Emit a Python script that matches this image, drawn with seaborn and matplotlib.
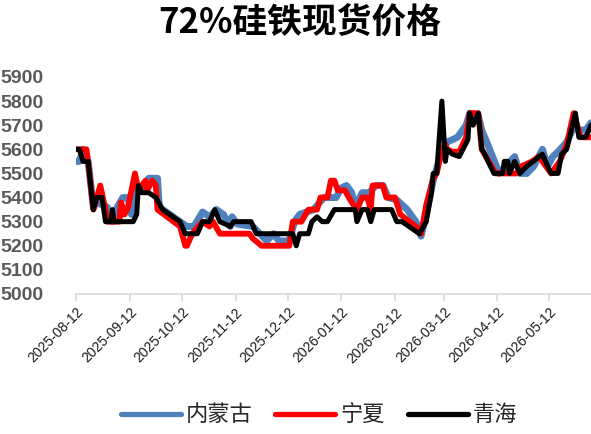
import pandas as pd
import matplotlib
matplotlib.use("Agg")
import matplotlib.pyplot as plt
import matplotlib.dates as mdates
from matplotlib.lines import Line2D
import seaborn as sns

# 内蒙古
nm_dates = ["2025-08-12", "2025-08-14", "2025-08-16", "2025-08-19", "2025-08-22", "2025-08-24",
            "2025-08-30", "2025-09-02", "2025-09-04", "2025-09-08", "2025-09-11", "2025-09-13",
            "2025-09-15", "2025-09-18", "2025-09-23", "2025-09-28", "2025-09-29", "2025-10-11",
            "2025-10-15", "2025-10-19", "2025-10-24", "2025-10-28", "2025-11-01", "2025-11-05",
            "2025-11-09", "2025-11-10", "2025-11-13", "2025-11-22", "2025-11-26", "2025-11-30",
            "2025-12-04", "2025-12-07", "2025-12-13", "2025-12-16", "2025-12-19", "2025-12-23",
            "2025-12-27", "2026-01-02", "2026-01-09", "2026-01-12", "2026-01-15", "2026-01-18",
            "2026-01-20", "2026-01-24", "2026-01-28", "2026-02-01", "2026-02-05", "2026-02-08",
            "2026-02-13", "2026-02-19", "2026-02-24", "2026-02-27", "2026-03-01", "2026-03-06",
            "2026-03-10", "2026-03-14", "2026-03-20", "2026-03-22", "2026-03-25", "2026-03-27",
            "2026-04-01", "2026-04-03", "2026-04-07", "2026-04-12", "2026-04-13", "2026-04-22",
            "2026-04-25", "2026-04-29", "2026-05-03", "2026-05-08", "2026-05-11", "2026-05-14",
            "2026-05-17", "2026-05-22", "2026-05-26", "2026-05-29", "2026-06-02", "2026-06-05"]
nm_vals = [5550, 5550, 5600, 5550, 5360, 5380,
           5360, 5300, 5350, 5400, 5400, 5330,
           5430, 5430, 5480, 5480, 5360, 5300,
           5280, 5280, 5340, 5320, 5350, 5330,
           5280, 5320, 5290, 5280, 5250, 5220,
           5250, 5220, 5220, 5300, 5330, 5340,
           5350, 5400, 5400, 5440, 5450, 5420,
           5360, 5420, 5420, 5450, 5450, 5400,
           5390, 5350, 5300, 5240, 5300, 5470,
           5570, 5630, 5650, 5670, 5700, 5750,
           5740, 5680, 5610, 5520, 5500, 5570,
           5500, 5500, 5530, 5600, 5530, 5570,
           5590, 5630, 5690, 5680, 5680, 5710]

# 宁夏
nx_dates = ["2025-08-12", "2025-08-18", "2025-08-19", "2025-08-22", "2025-08-24", "2025-08-26",
            "2025-08-29", "2025-08-30", "2025-09-06", "2025-09-07", "2025-09-09", "2025-09-11",
            "2025-09-15", "2025-09-17", "2025-09-21", "2025-09-22", "2025-09-25", "2025-09-27",
            "2025-09-28", "2025-10-11", "2025-10-14", "2025-10-15", "2025-10-18", "2025-10-24",
            "2025-10-28", "2025-10-30", "2025-11-03", "2025-11-20", "2025-11-22", "2025-11-27",
            "2025-12-13", "2025-12-15", "2025-12-20", "2025-12-24", "2025-12-29", "2025-12-31",
            "2026-01-04", "2026-01-06", "2026-01-08", "2026-01-10", "2026-01-14", "2026-01-18",
            "2026-01-21", "2026-01-24", "2026-01-27", "2026-01-29", "2026-01-30", "2026-02-05",
            "2026-02-07", "2026-02-12", "2026-02-15", "2026-02-24", "2026-02-27", "2026-03-02",
            "2026-03-06", "2026-03-08", "2026-03-11", "2026-03-13", "2026-03-14", "2026-03-17",
            "2026-03-21", "2026-03-25", "2026-03-27", "2026-04-01", "2026-04-03", "2026-04-07",
            "2026-04-11", "2026-04-23", "2026-04-26", "2026-05-02", "2026-05-06", "2026-05-13",
            "2026-05-18", "2026-05-22", "2026-05-26", "2026-05-30", "2026-06-05"]
nx_vals = [5600, 5600, 5550, 5350, 5400, 5450,
           5350, 5300, 5300, 5380, 5330, 5360,
           5500, 5430, 5470, 5430, 5470, 5450,
           5350, 5280, 5200, 5200, 5250, 5300,
           5280, 5300, 5250, 5250, 5230, 5200,
           5200, 5300, 5300, 5350, 5350, 5400,
           5400, 5470, 5470, 5430, 5430, 5380,
           5350, 5400, 5400, 5350, 5450, 5450,
           5400, 5400, 5330, 5280, 5250, 5370,
           5480, 5500, 5600, 5620, 5600, 5590,
           5590, 5650, 5750, 5750, 5600, 5550,
           5500, 5500, 5530, 5550, 5570, 5500,
           5550, 5620, 5750, 5650, 5650]

# 青海
qh_dates = ["2025-08-12", "2025-08-14", "2025-08-16", "2025-08-19", "2025-08-22", "2025-08-24",
            "2025-08-27", "2025-08-29", "2025-09-01", "2025-09-02", "2025-09-03", "2025-09-14",
            "2025-09-16", "2025-09-17", "2025-09-19", "2025-09-23", "2025-09-27", "2025-10-01",
            "2025-10-11", "2025-10-14", "2025-10-21", "2025-10-24", "2025-10-28", "2025-10-31",
            "2025-11-03", "2025-11-09", "2025-11-11", "2025-11-21", "2025-11-24", "2025-12-15",
            "2025-12-17", "2025-12-19", "2025-12-24", "2025-12-26", "2025-12-29", "2026-01-01",
            "2026-01-04", "2026-01-08", "2026-01-20", "2026-01-21", "2026-01-24", "2026-01-27",
            "2026-01-29", "2026-01-31", "2026-02-10", "2026-02-13", "2026-02-16", "2026-02-26",
            "2026-03-02", "2026-03-05", "2026-03-06", "2026-03-08", "2026-03-11", "2026-03-13",
            "2026-03-14", "2026-03-17", "2026-03-21", "2026-03-26", "2026-03-27", "2026-03-29",
            "2026-04-01", "2026-04-03", "2026-04-04", "2026-04-10", "2026-04-15", "2026-04-16",
            "2026-04-18", "2026-04-19", "2026-04-22", "2026-04-25", "2026-04-29", "2026-05-08",
            "2026-05-11", "2026-05-13", "2026-05-17", "2026-05-19", "2026-05-22", "2026-05-27",
            "2026-05-29", "2026-06-02", "2026-06-05"]
qh_vals = [5600, 5600, 5550, 5550, 5350, 5400,
           5400, 5300, 5300, 5350, 5300, 5300,
           5330, 5450, 5420, 5420, 5400, 5350,
           5300, 5250, 5250, 5300, 5300, 5350,
           5300, 5280, 5300, 5300, 5250, 5250,
           5200, 5250, 5250, 5300, 5320, 5300,
           5300, 5350, 5350, 5300, 5350, 5350,
           5300, 5350, 5350, 5300, 5300, 5250,
           5300, 5420, 5500, 5500, 5800, 5550,
           5600, 5580, 5570, 5640, 5750, 5700,
           5750, 5600, 5590, 5500, 5500, 5550,
           5550, 5500, 5550, 5500, 5530, 5580,
           5530, 5500, 5500, 5580, 5600, 5750,
           5650, 5650, 5700]

series = ["内蒙古", "宁夏", "青海"]
colors = ["#4f81bd", "#ff0000", "#000000"]
widths = [5.0, 4.2, 3.6]
tick_months = ["2025-08-12", "2025-09-12", "2025-10-12", "2025-11-12", "2025-12-12",
               "2026-01-12", "2026-02-12", "2026-03-12", "2026-04-12", "2026-05-12"]

frames = []
for name, d, v in zip(series, [nm_dates, nx_dates, qh_dates], [nm_vals, nx_vals, qh_vals]):
    frames.append(pd.DataFrame({"date": pd.to_datetime(d), "price": v, "region": name}))
df = pd.concat(frames, ignore_index=True)

sns.set_style("white")
plt.rcParams['font.family'] = ['Noto Sans CJK SC', 'DejaVu Sans']

fig = plt.figure(figsize=(5.91, 4.34), dpi=100)
ax = fig.add_axes([0.1286, 0.3226, 0.8714, 0.5])

for name, c, lw in zip(series, colors, widths):
    sub = df[df["region"] == name]
    sns.lineplot(data=sub, x="date", y="price", color=c, linewidth=lw, ax=ax,
                 solid_capstyle="round", solid_joinstyle="round")

ax.set_ylim(5000, 5900)
ax.set_yticks(range(5000, 5901, 100))
ax.set_xlim(pd.Timestamp("2025-08-12"), pd.Timestamp("2026-06-05"))
ax.set_xticks(pd.to_datetime(tick_months))
ax.xaxis.set_major_formatter(mdates.DateFormatter("%Y-%m-%d"))
ax.set_xlabel("")
ax.set_ylabel("")

for s in ["top", "right", "left"]:
    ax.spines[s].set_visible(False)
ax.spines["bottom"].set_color("#d9d9d9")
ax.spines["bottom"].set_linewidth(1.2)
ax.spines["bottom"].set_zorder(0)

ax.tick_params(axis="x", which="major", bottom=True, length=5, width=1.2, color="#d9d9d9",
               labelsize=10, labelcolor="#1a1a1a", pad=3)
ax.tick_params(axis="y", left=False, labelsize=14, labelcolor="#595959", pad=51)
for lab in ax.get_xticklabels():
    lab.set_rotation(45)
    lab.set_ha("right")
    lab.set_rotation_mode("anchor")
    lab.set_family(["Liberation Sans", "DejaVu Sans"])
for lab in ax.get_yticklabels():
    lab.set_fontweight("bold")
    lab.set_family(["Liberation Sans", "DejaVu Sans"])
    lab.set_ha("left")

fig.text(0.508, 0.949, "72%硅铁现货价格", ha="center", va="center", fontsize=25,
         fontweight="bold", color="black")

handles = [Line2D([0], [0], color=c, linewidth=3.8, solid_capstyle="round") for c in colors]
fig.legend(handles, series, loc="center", bbox_to_anchor=(0.54, 0.044), ncol=3,
           frameon=False, fontsize=16, handlelength=2.7, handletextpad=0.25,
           columnspacing=1.0)

fig.savefig("out.png", dpi=100)
